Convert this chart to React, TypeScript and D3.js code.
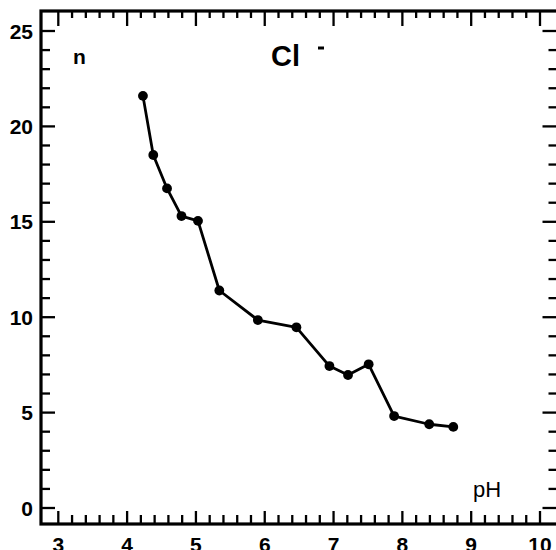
import React from "react";
import * as d3 from "d3";

const phValues = [4.23, 4.38, 4.58, 4.79, 5.03, 5.34, 5.9, 6.46, 6.94, 7.21, 7.51, 7.88, 8.39, 8.74];
const nValues = [21.6, 18.5, 16.75, 15.3, 15.05, 11.4, 9.85, 9.47, 7.44, 6.97, 7.53, 4.82, 4.39, 4.25];
const xTickLabels = [3, 4, 5, 6, 7, 8, 9, 10];
const yTickLabels = [0, 5, 10, 15, 20, 25];

const W = 556;
const H = 550;
const frame = { left: 41, top: 11, right: 558.5, bottom: 524 };

export default function App() {
  const x = d3.scaleLinear().domain([3, 10]).range([58.3, 540]);
  const y = d3.scaleLinear().domain([0, 25]).range([508, 31]);

  const xMinor = d3.range(3, 10.001, 0.2).map((v) => +v.toFixed(1));
  const yMinor = d3.range(0, 25.001, 1);

  const line = d3
    .line<number>()
    .x((_, i) => x(phValues[i]))
    .y((d) => y(d));

  const font = "Liberation Sans, Arial, Helvetica, sans-serif";
  const isMajorX = (v: number) => Math.abs(v - Math.round(v)) < 1e-6;
  const isMajorY = (v: number) => v % 5 === 0;

  return (
    <svg
      width={W}
      height={H}
      style={{ position: "absolute", left: 0, top: 0, background: "#fff" }}
      fontFamily={font}
    >
      <rect x={0} y={0} width={W} height={H} fill="#fff" />
      {/* frame */}
      <rect
        x={frame.left}
        y={frame.top}
        width={frame.right - frame.left}
        height={frame.bottom - frame.top}
        fill="none"
        stroke="#000"
        strokeWidth={3.2}
      />
      {/* bottom & top ticks */}
      {xMinor.map((v) => {
        const major = isMajorX(v);
        const px = x(v);
        return (
          <g key={"xt" + v}>
            <line x1={px} x2={px} y1={frame.bottom} y2={frame.bottom - (major ? 13 : 9)} stroke="#000" strokeWidth={2.3} />
            <line x1={px} x2={px} y1={frame.top} y2={frame.top + (major ? 15 : 7)} stroke="#000" strokeWidth={2.3} />
          </g>
        );
      })}
      {/* left & right ticks */}
      {yMinor.map((v) => {
        const major = isMajorY(v);
        const py = y(v);
        return (
          <g key={"yt" + v}>
            <line x1={frame.left} x2={frame.left + (major ? 14 : 9)} y1={py} y2={py} stroke="#000" strokeWidth={2.3} />
            <line x1={frame.right} x2={frame.right - (major ? 16 : 10)} y1={py} y2={py} stroke="#000" strokeWidth={2.3} />
          </g>
        );
      })}
      {/* tick labels */}
      {xTickLabels.map((v) => (
        <text key={"xl" + v} x={x(v)} y={552} textAnchor="middle" fontSize={21} fontWeight="bold">
          {v}
        </text>
      ))}
      {yTickLabels.map((v) => (
        <text key={"yl" + v} x={33} y={y(v) + 7.5} textAnchor="end" fontSize={21} fontWeight="bold">
          {v}
        </text>
      ))}
      {/* labels */}
      <text x={73} y={64} fontSize={21} fontWeight="bold">n</text>
      <text x={271} y={66} fontSize={29} fontWeight="bold">Cl</text>
      <line x1={318} x2={324} y1={48} y2={48} stroke="#000" strokeWidth={3} />
      <text x={473} y={497} fontSize={22}>pH</text>
      {/* data */}
      <path d={line(nValues) || ""} fill="none" stroke="#000" strokeWidth={2.8} strokeLinejoin="round" />
      {nValues.map((d, i) => (
        <circle key={"p" + i} cx={x(phValues[i])} cy={y(d)} r={4.9} fill="#000" />
      ))}
    </svg>
  );
}
